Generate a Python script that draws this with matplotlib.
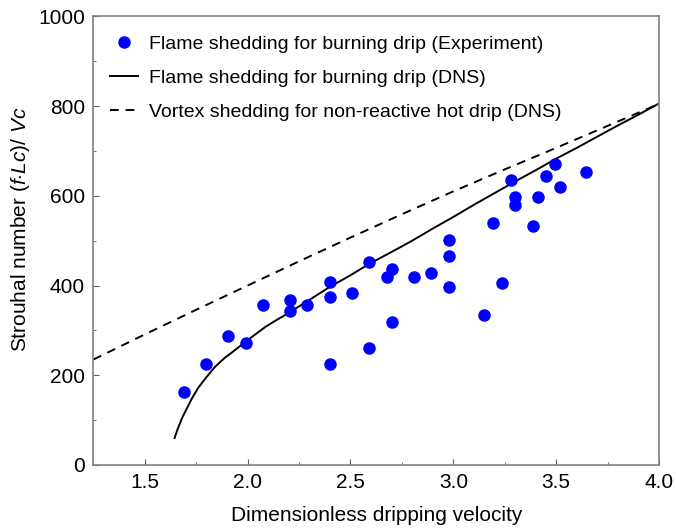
import matplotlib.pyplot as plt
import numpy as np

plt.rcParams['font.family'] = ['Liberation Sans', 'DejaVu Sans']
plt.rcParams['mathtext.fontset'] = 'custom'
plt.rcParams['mathtext.rm'] = 'Liberation Sans'
plt.rcParams['mathtext.it'] = 'Liberation Sans:italic'

# experiment points
exp_x = [1.69, 1.80, 1.905, 1.99, 2.076, 2.204, 2.204, 2.29, 2.40, 2.40, 2.40,
         2.506, 2.592, 2.592, 2.679, 2.70, 2.70, 2.807, 2.893, 2.979, 2.979, 2.979,
         3.151, 3.195, 3.237, 3.279, 3.30, 3.30, 3.389, 3.41, 3.452, 3.496, 3.517, 3.645]
exp_y = [162, 226, 288, 273, 357, 367, 344, 357, 409, 375, 226,
         383, 453, 261, 419, 436, 318, 419, 428, 502, 466, 397,
         335, 539, 406, 636, 598, 579, 532, 597, 645, 672, 619, 654]

# DNS burning drip (solid)
dns_x = [1.645, 1.66, 1.68, 1.70, 1.729, 1.76, 1.79, 1.811, 1.84, 1.87, 1.892, 1.93,
         1.96, 1.99, 2.04, 2.087, 2.14, 2.20, 2.30, 2.396, 2.50, 2.59, 2.70, 2.80,
         2.90, 3.0, 3.1, 3.2, 3.3, 3.4, 3.5, 3.6, 3.7, 3.8, 3.9, 4.0]
dns_y = [60, 80, 103, 122, 148, 172, 190, 202, 218, 231, 240, 253,
         264, 275, 292, 308, 323, 339, 368, 396, 423, 448, 475, 500,
         527, 553, 580, 606, 632, 657, 683, 707, 732, 757, 781, 806]

# DNS non-reactive hot drip (dashed)
hot_x = [1.25, 1.5, 1.75, 2.0, 2.25, 2.5, 2.75, 3.0, 3.25, 3.5, 3.75, 4.0]
hot_y = [235, 291, 346, 400, 454, 507, 559, 610, 659, 707, 756, 805]

fig = plt.figure(figsize=(6.76, 5.29), dpi=100)
ax = fig.add_axes([0.138, 0.121, 0.837, 0.848])

ax.plot(exp_x, exp_y, 'o', color='#0000ff', markersize=8, zorder=3,
        label='Flame shedding for burning drip (Experiment)')
ax.plot(dns_x, dns_y, '-', color='black', linewidth=1.4,
        label='Flame shedding for burning drip (DNS)')
ax.plot(hot_x, hot_y, '--', color='black', linewidth=1.4, dashes=(4.5, 3.5),
        label='Vortex shedding for non-reactive hot drip (DNS)')

ax.set_xlim(1.25, 4.0)
ax.set_ylim(0, 1000)
ax.set_xticks([1.5, 2.0, 2.5, 3.0, 3.5, 4.0])
ax.set_xticks(np.arange(1.25, 4.01, 0.25), minor=True)
ax.set_yticks([0, 200, 400, 600, 800, 1000])
ax.set_yticks(np.arange(0, 1001, 100), minor=True)
ax.xaxis.set_major_formatter(plt.FormatStrFormatter('%.1f'))

for s in ax.spines.values():
    s.set_color('#808080')
    s.set_linewidth(1.2)
ax.tick_params(which='major', direction='in', length=4, color='#606060',
               labelsize=15, pad=6)
ax.tick_params(which='minor', direction='in', length=2, color='#606060')

ax.set_xlabel('Dimensionless dripping velocity', fontsize=15, labelpad=10)
ax.set_ylabel(r'Strouhal number $(f{\cdot}Lc)/\ Vc$', fontsize=15)
ax.yaxis.set_label_coords(-0.108, 0.525)

ax.legend(loc='upper left', frameon=False, fontsize=14, handlelength=1.42,
          handletextpad=0.6, labelspacing=0.85, borderaxespad=0,
          bbox_to_anchor=(0.016, 0.976))

plt.savefig('out.png', dpi=100)
